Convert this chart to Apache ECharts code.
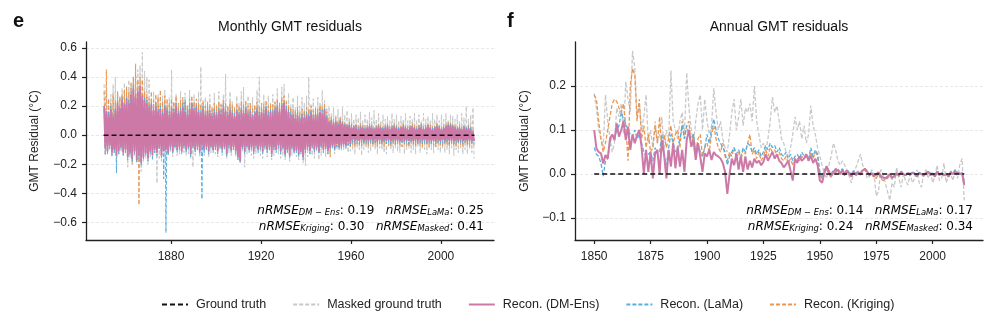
<!DOCTYPE html>
<html>
<head>
<meta charset="utf-8">
<script src="https://cdn.jsdelivr.net/npm/echarts@6/dist/echarts.min.js"></script>
<style>
html, body { margin: 0; background: #fff; }
#chart { width: 996px; height: 327px; }
</style>
</head>
<body>
<div id="chart"></div>
<script>
// tick labels
var monthlyXTicks = [1880, 1920, 1960, 2000];
var monthlyYTicks = [-0.6, -0.4, -0.2, 0, 0.2, 0.4, 0.6];
var annualXTicks = [1850, 1875, 1900, 1925, 1950, 1975, 2000];
var annualYTicks = [-0.1, 0, 0.1, 0.2];

var seriesNames = ['Ground truth', 'Masked ground truth', 'Recon. (DM-Ens)', 'Recon. (LaMa)', 'Recon. (Kriging)'];

// ground truth residual is zero over the record
var truthYears = [1850, 2014.9];
var truthResidual = [0, 0];

// monthly residuals, read every half year (1850.25, 1850.75, ...)
var monthlyStart = 1850.25;
var monthlyStep = 0.5;

var monthlyDmEns = [
  .20,-.08, .16,-.11, .14,-.07, .18,-.12, .13,-.10, .17,-.14, .22,-.11, .19,-.08, .24,-.12, .21,-.10,
  .25,-.15, .22,-.12, .28,-.16, .32,-.11, .26,-.17, .30,-.14, .34,-.19, .27,-.15, .24,-.12, .22,-.16,
  .19,-.11, .21,-.14, .17,-.10, .20,-.12, .16,-.08, .18,-.14, .15,-.11, .19,-.10, .17,-.12, .14,-.08,
  .18,-.11, .16,-.07, .20,-.10, .15,-.08, .17,-.11, .19,-.07, .16,-.10, .14,-.08, .18,-.13, .21,-.07,
  .17,-.10, .19,-.08, .16,-.11, .15,-.07, .18,-.10, .14,-.08, .17,-.11, .15,-.07, .13,-.10, .16,-.08,
  .14,-.11, .17,-.07, .15,-.10, .19,-.08, .16,-.13, .14,-.07, .17,-.10, .15,-.08, .13,-.11, .16,-.15,
  .14,-.18, .17,-.08, .15,-.11, .18,-.07, .14,-.10, .16,-.08, .13,-.11, .15,-.07, .17,-.10, .14,-.08,
  .16,-.11, .15,-.07, .18,-.10, .14,-.08, .16,-.13, .15,-.08, .17,-.10, .19,-.07, .16,-.11, .20,-.08,
  .22,-.13, .18,-.10, .16,-.14, .14,-.08, .13,-.11, .12,-.10, .14,-.13, .11,-.11, .13,-.15, .12,-.10,
  .14,-.08, .13,-.11, .15,-.07, .12,-.10, .14,-.08, .13,-.11, .16,-.07, .15,-.10, .18,-.08, .12,-.11,
  .09,-.08, .10,-.07, .08,-.09, .09,-.06, .07,-.08, .10,-.07, .08,-.06, .07,-.07, .06,-.05, .07,-.06,
  .05,-.03, .06,-.04, .05,-.03, .04,-.04, .06,-.03, .05,-.04, .04,-.03, .05,-.04, .06,-.03, .05,-.04,
  .04,-.03, .05,-.04, .06,-.03, .05,-.04, .04,-.03, .05,-.04, .06,-.03, .04,-.04, .05,-.03, .06,-.04,
  .05,-.03, .04,-.04, .05,-.03, .06,-.04, .05,-.03, .04,-.04, .05,-.03, .06,-.04, .05,-.03, .04,-.04,
  .05,-.03, .06,-.04, .04,-.03, .05,-.04, .06,-.03, .05,-.04, .04,-.03, .05,-.04, .06,-.03, .05,-.04,
  .04,-.03, .05,-.04, .06,-.03, .07,-.04, .07,-.03, .06,-.04, .05,-.03, .04,-.04, .05,-.03, .04,-.04,
  .05,-.03, .04,-.04, .05,-.03, .04,-.04, .02,-.04
];

var monthlyLama = [
  .18,-.13, .17,-.13, .16,-.09, .20,-.14, .15,-.12, .19,-.26, .23,-.13, .19,-.10, .26,-.14, .22,-.12,
  .27,-.17, .24,-.14, .30,-.18, .35,-.13, .28,-.19, .31,-.16, .30,-.21, .28,-.17, .26,-.14, .24,-.18,
  .21,-.13, .23,-.16, .19,-.12, .22,-.14, .18,-.10, .20,-.16, .17,-.30, .21,-.67, .19,-.14, .16,-.10,
  .20,-.13, .18,-.09, .22,-.12, .17,-.10, .19,-.13, .22,-.09, .24,-.12, .18,-.10, .22,-.15, .23,-.09,
  .19,-.12, .21,-.10, .18,-.13, .17,-.44, .20,-.12, .16,-.10, .19,-.13, .17,-.09, .15,-.12, .18,-.10,
  .16,-.13, .19,-.09, .17,-.12, .21,-.10, .18,-.15, .16,-.09, .19,-.12, .17,-.10, .15,-.13, .18,-.17,
  .16,-.19, .19,-.10, .17,-.13, .20,-.09, .16,-.12, .18,-.10, .15,-.13, .17,-.09, .19,-.12, .16,-.10,
  .18,-.13, .17,-.09, .20,-.12, .16,-.10, .18,-.15, .17,-.10, .19,-.12, .21,-.09, .18,-.13, .22,-.10,
  .23,-.15, .20,-.12, .18,-.16, .16,-.10, .15,-.13, .14,-.12, .16,-.15, .13,-.13, .15,-.17, .14,-.12,
  .16,-.10, .15,-.13, .17,-.09, .14,-.12, .16,-.10, .15,-.13, .18,-.09, .17,-.12, .19,-.10, .14,-.13,
  .10,-.10, .11,-.09, .09,-.11, .10,-.08, .08,-.10, .11,-.09, .09,-.08, .08,-.09, .07,-.07, .08,-.08,
  .07,-.05, .06,-.06, .07,-.05, .05,-.06, .07,-.05, .06,-.06, .05,-.05, .06,-.06, .07,-.05, .06,-.06,
  .05,-.05, .06,-.06, .07,-.05, .06,-.06, .05,-.05, .06,-.06, .07,-.05, .05,-.06, .06,-.05, .07,-.06,
  .06,-.05, .05,-.06, .06,-.05, .07,-.06, .06,-.05, .05,-.06, .06,-.05, .07,-.06, .06,-.05, .05,-.06,
  .06,-.05, .07,-.06, .05,-.05, .06,-.06, .07,-.05, .06,-.06, .05,-.05, .06,-.06, .07,-.05, .06,-.06,
  .05,-.05, .06,-.06, .07,-.05, .08,-.06, .08,-.05, .07,-.06, .06,-.05, .05,-.06, .06,-.05, .05,-.06,
  .06,-.05, .05,-.06, .06,-.05, .05,-.06, .03,-.06
];

var monthlyKriging = [
  .30,-.10, .45,-.12, .25,-.08, .22,-.11, .28,-.09, .24,-.12, .30,-.10, .26,-.08, .28,-.11, .31,-.09,
  .33,-.13, .30,-.11, .36,-.20, .40,-.12, .49,-.16, .38,-.48, .40,-.18, .38,-.14, .30,-.12, .28,-.15,
  .25,-.11, .30,-.13, .24,-.10, .28,-.12, .26,-.09, .31,-.14, .23,-.11, .27,-.10, .25,-.12, .22,-.09,
  .25,-.11, .23,-.08, .27,-.10, .22,-.09, .24,-.11, .26,-.08, .23,-.10, .21,-.09, .25,-.12, .27,-.08,
  .23,-.10, .25,-.09, .22,-.11, .21,-.08, .24,-.10, .20,-.09, .23,-.11, .21,-.08, .19,-.10, .22,-.09,
  .20,-.11, .23,-.08, .21,-.10, .24,-.09, .22,-.12, .20,-.08, .23,-.10, .21,-.09, .19,-.11, .22,-.14,
  .20,-.17, .23,-.09, .21,-.11, .24,-.08, .20,-.10, .22,-.09, .19,-.11, .21,-.08, .23,-.10, .20,-.09,
  .22,-.11, .21,-.08, .24,-.10, .20,-.09, .22,-.12, .21,-.09, .23,-.10, .25,-.08, .22,-.11, .26,-.09,
  .27,-.12, .23,-.10, .21,-.13, .19,-.09, .18,-.11, .17,-.10, .19,-.12, .16,-.11, .18,-.14, .17,-.10,
  .19,-.09, .18,-.11, .20,-.08, .17,-.10, .19,-.09, .18,-.11, .21,-.08, .20,-.10, .22,-.09, .16,-.11,
  .12,-.15, .13,-.08, .11,-.10, .12,-.07, .10,-.09, .12,-.08, .10,-.07, .09,-.08, .08,-.07, .09,-.08,
  .08,-.07, .07,-.08, .08,-.06, .06,-.07, .08,-.08, .07,-.06, .06,-.07, .07,-.08, .08,-.06, .07,-.07,
  .06,-.07, .07,-.08, .08,-.06, .07,-.07, .06,-.08, .07,-.06, .08,-.07, .06,-.08, .07,-.06, .08,-.07,
  .07,-.06, .06,-.07, .07,-.08, .08,-.06, .07,-.07, .06,-.08, .07,-.06, .08,-.07, .07,-.08, .06,-.06,
  .07,-.07, .08,-.08, .06,-.06, .07,-.07, .08,-.08, .07,-.06, .06,-.07, .07,-.08, .08,-.06, .07,-.07,
  .06,-.08, .07,-.06, .08,-.07, .09,-.08, .09,-.06, .08,-.07, .07,-.08, .06,-.06, .07,-.07, .06,-.08,
  .07,-.06, .06,-.07, .07,-.08, .06,-.06, .04,-.07
];

var monthlyMasked = [
  .35,-.14, .30,-.12, .25,-.10, .28,-.15, .35,-.12, .40,-.16, .30,-.13, .27,-.11, .32,-.14, .36,-.12,
  .34,-.22, .38,-.16, .35,-.18, .40,-.14, .42,-.19, .45,-.16, .48,-.25, .57,-.18, .44,-.16, .40,-.20,
  .38,-.15, .24,-.17, .30,-.12, .22,-.33, .28,-.16, .20,-.18, .27,-.11, .31,-.17, .21,-.14, .26,-.12,
  .45,-.15, .22,-.10, .28,-.14, .20,-.13, .30,-.09, .24,-.12, .29,-.14, .19,-.13, .31,-.16, .23,-.22,
  .28,-.14, .21,-.10, .30,-.15, .47,-.12, .22,-.14, .26,-.09, .20,-.15, .28,-.12, .19,-.10, .29,-.13,
  .21,-.15, .30,-.10, .22,-.14, .28,-.09, .42,-.16, .20,-.12, .30,-.14, .23,-.10, .19,-.15, .27,-.16,
  .22,-.17, .30,-.11, .33,-.22, .21,-.13, .27,-.10, .22,-.14, .26,-.16, .20,-.13, .31,-.11, .40,-.14,
  .22,-.16, .28,-.10, .21,-.15, .27,-.11, .20,-.17, .28,-.14, .22,-.10, .32,-.13, .23,-.16, .33,-.14,
  .35,-.17, .24,-.12, .29,-.18, .21,-.14, .26,-.11, .19,-.15, .27,-.17, .20,-.12, .26,-.19, .22,-.21,
  .27,-.15, .40,-.12, .21,-.14, .25,-.16, .20,-.11, .26,-.17, .22,-.14, .31,-.12, .24,-.15, .19,-.13,
  .20,-.12, .15,-.09, .19,-.13, .14,-.10, .18,-.08, .13,-.11, .19,-.10, .14,-.09, .17,-.12, .12,-.11,
  .15,-.10, .11,-.13, .14,-.09, .12,-.10, .16,-.14, .10,-.10, .14,-.09, .11,-.12, .16,-.11, .12,-.08,
  .17,-.10, .11,-.13, .15,-.09, .10,-.10, .14,-.12, .11,-.13, .13,-.08, .10,-.10, .15,-.12, .11,-.09,
  .14,-.11, .10,-.12, .13,-.08, .11,-.13, .15,-.10, .10,-.09, .13,-.12, .11,-.10, .15,-.13, .10,-.08,
  .14,-.12, .10,-.09, .15,-.10, .11,-.13, .13,-.09, .10,-.10, .15,-.12, .11,-.08, .14,-.10, .10,-.12,
  .14,-.09, .11,-.12, .15,-.10, .10,-.13, .14,-.09, .13,-.14, .11,-.10, .14,-.12, .10,-.09, .15,-.13,
  .12,-.10, .20,-.13, .11,-.09, .14,-.12, .19,-.16
];

// annual residuals, 1850 .. 2014
var annualStart = 1850;

var annualDmEns = [
  0.100, 0.058, 0.050, 0.047, 0.024, 0.043, 0.035, 0.080, 0.090, 0.077,
  0.115, 0.085, 0.100, 0.120, 0.077, 0.107, 0.055, 0.090, 0.070, 0.088,
  0.100, 0.062, 0.000, 0.055, 0.005, 0.050, -0.010, 0.047, 0.055, 0.000,
  0.077, 0.043, -0.010, 0.055, 0.017, 0.070, 0.013, 0.062, 0.017, 0.055,
  0.005, 0.077, 0.100, 0.062, 0.077, 0.032, 0.070, 0.040, 0.005, 0.047,
  0.040, 0.055, 0.032, 0.050, 0.043, 0.040, 0.035, 0.025, 0.005, -0.045,
  0.000, 0.035, 0.020, 0.045, 0.010, 0.040, 0.005, 0.040, 0.010, 0.030,
  0.015, 0.035, 0.025, 0.030, 0.020, 0.028, 0.045, 0.030, 0.040, 0.050,
  0.035, 0.045, 0.030, 0.025, 0.015, 0.022, 0.030, 0.008, -0.015, 0.035,
  0.025, 0.040, 0.030, 0.035, 0.045, 0.030, 0.042, 0.025, 0.035, 0.020,
  -0.015, -0.020, 0.002, 0.018, 0.005, -0.005, 0.003, 0.012, 0.008, 0.000,
  0.010, -0.002, 0.008, 0.000, -0.005, 0.005, -0.002, 0.004, 0.000, 0.008,
  0.012, 0.005, -0.003, 0.002, -0.006, 0.000, 0.004, -0.004, -0.008, -0.010,
  -0.006, 0.000, -0.008, -0.004, 0.002, -0.002, 0.004, 0.000, -0.003, 0.002,
  -0.002, 0.003, 0.000, -0.005, 0.002, 0.000, -0.004, 0.002, 0.005, -0.002,
  0.000, -0.006, 0.004, -0.002, 0.002, -0.003, 0.000, -0.006, 0.003, 0.000,
  0.004, 0.002, 0.000, 0.002, -0.025
];

var annualLama = [
  0.060, 0.045, 0.040, 0.025, -0.005, 0.030, 0.035, 0.070, 0.090, 0.080,
  0.100, 0.110, 0.140, 0.125, 0.115, 0.100, 0.090, 0.085, 0.100, 0.080,
  0.090, 0.070, 0.050, 0.040, 0.045, 0.050, 0.030, 0.060, 0.045, 0.050,
  0.090, 0.040, 0.020, 0.060, 0.090, 0.070, 0.050, 0.060, 0.080, 0.110,
  0.080, 0.110, 0.090, 0.080, 0.090, 0.050, 0.070, 0.050, 0.040, 0.060,
  0.090, 0.070, 0.100, 0.125, 0.100, 0.080, 0.070, 0.060, 0.050, 0.020,
  0.040, 0.050, 0.060, 0.045, 0.055, 0.040, 0.060, 0.050, 0.070, 0.065,
  0.050, 0.060, 0.045, 0.055, 0.040, 0.050, 0.065, 0.055, 0.070, 0.060,
  0.065, 0.050, 0.060, 0.045, 0.040, 0.050, 0.035, 0.045, 0.030, 0.040,
  0.045, 0.035, 0.050, 0.040, 0.045, 0.035, 0.060, 0.040, 0.055, 0.045,
  0.005, -0.010, 0.010, 0.015, 0.008, 0.000, 0.010, 0.006, 0.012, 0.004,
  0.012, 0.002, 0.010, 0.004, 0.000, 0.008, 0.002, 0.006, 0.003, 0.010,
  0.012, 0.006, 0.000, 0.004, -0.004, -0.006, 0.002, -0.008, -0.012, -0.010,
  -0.008, -0.002, -0.010, -0.006, 0.000, -0.004, 0.006, 0.002, -0.002, 0.004,
  0.000, 0.005, 0.002, -0.003, 0.004, 0.002, -0.002, 0.004, 0.006, 0.000,
  0.002, -0.004, 0.008, 0.000, 0.004, -0.002, 0.002, -0.004, 0.006, 0.002,
  0.010, 0.004, 0.002, 0.004, -0.015
];

var annualKriging = [
  0.180, 0.170, 0.120, 0.080, 0.050, 0.070, 0.100, 0.130, 0.160, 0.170,
  0.165, 0.150, 0.140, 0.160, 0.110, 0.030, 0.200, 0.240, 0.225, 0.120,
  0.170, 0.080, 0.110, 0.060, 0.090, 0.050, 0.060, 0.110, 0.070, 0.130,
  0.050, 0.090, 0.060, 0.080, 0.110, 0.070, 0.090, 0.100, 0.060, 0.120,
  0.080, 0.110, 0.120, 0.060, 0.090, 0.050, 0.080, 0.090, 0.040, 0.060,
  0.070, 0.050, 0.090, 0.110, 0.080, 0.060, 0.050, 0.070, 0.040, 0.030,
  0.050, 0.040, 0.060, 0.035, 0.050, 0.030, 0.055, 0.045, 0.070, 0.090,
  0.045, 0.055, 0.035, 0.050, 0.030, 0.040, 0.055, 0.040, 0.060, 0.050,
  0.055, 0.040, 0.050, 0.035, 0.030, 0.040, 0.025, 0.035, 0.020, 0.030,
  0.035, 0.030, 0.040, 0.035, 0.040, 0.030, 0.050, 0.035, 0.050, 0.040,
  0.000, -0.015, 0.005, 0.010, 0.000, -0.008, 0.006, 0.002, 0.010, -0.002,
  0.008, -0.004, 0.006, 0.000, -0.006, 0.004, -0.004, 0.002, -0.002, 0.006,
  0.010, 0.004, -0.004, 0.000, -0.008, -0.010, 0.000, -0.010, -0.015, -0.012,
  -0.010, -0.004, -0.012, -0.008, -0.002, -0.006, 0.004, 0.000, -0.004, 0.002,
  -0.002, 0.003, 0.000, -0.006, 0.002, 0.000, -0.004, 0.002, 0.004, -0.003,
  0.000, -0.006, 0.006, -0.002, 0.002, -0.004, 0.000, -0.006, 0.004, 0.000,
  0.008, 0.002, 0.000, 0.002, -0.020
];

var annualMasked = [
  0.183, 0.150, 0.100, 0.080, 0.060, 0.180, 0.120, 0.080, 0.050, 0.070,
  0.150, 0.130, 0.160, 0.090, 0.210, 0.170, 0.140, 0.280, 0.240, 0.130,
  0.160, 0.100, 0.130, 0.180, 0.070, 0.100, 0.060, 0.120, 0.070, 0.090,
  0.130, 0.050, 0.100, 0.080, 0.235, 0.120, 0.100, 0.080, 0.120, 0.140,
  0.090, 0.230, 0.150, 0.100, 0.070, 0.120, 0.160, 0.180, 0.100, 0.170,
  0.120, 0.090, 0.110, 0.195, 0.140, 0.100, 0.120, 0.080, 0.060, 0.050,
  0.090, 0.140, 0.170, 0.100, 0.130, 0.170, 0.110, 0.150, 0.140, 0.160,
  0.120, 0.200, 0.120, 0.090, 0.060, 0.070, 0.050, 0.080, 0.120, 0.175,
  0.140, 0.155, 0.120, 0.080, 0.070, 0.050, 0.040, 0.060, 0.090, 0.130,
  0.100, 0.120, 0.080, 0.110, 0.070, 0.090, 0.155, 0.110, 0.090, 0.060,
  0.040, 0.020, 0.000, -0.010, 0.020, 0.040, 0.070, 0.055, 0.030, 0.020,
  0.030, 0.020, 0.010, -0.005, -0.020, 0.005, 0.015, 0.030, 0.045, 0.020,
  0.010, -0.010, -0.005, 0.010, 0.000, -0.050, -0.040, 0.010, 0.000, -0.020,
  -0.040, -0.060, -0.020, -0.030, 0.015, -0.010, -0.030, 0.000, -0.015, -0.025,
  0.000, -0.020, -0.010, 0.010, -0.020, -0.030, 0.000, 0.010, -0.010, 0.005,
  -0.020, -0.005, 0.020, -0.015, -0.010, 0.025, -0.020, -0.005, 0.000, -0.015,
  0.010, -0.010, 0.020, 0.035, -0.060
];

var colors = {
  truth: '#111111',
  masked: '#c8c8c8',
  dmEns: '#cc79a7',
  lama: '#5aaee0',
  kriging: '#ec9650'
};

function toPairs(start, step, values) {
  return values.map(function (v, i) { return [start + i * step, v]; });
}
function truthPairs() {
  return truthYears.map(function (y, i) { return [y, truthResidual[i]]; });
}
function fmt(v) {
  return (Math.abs(v) < 1e-9 ? '0.0' : v.toFixed(1)).replace('-', '\u2212');
}
function yearFmt(v) {
  return String(Math.round(v));
}

function line(name, panel, data, color, width, dash, z) {
  return {
    name: name,
    type: 'line',
    xAxisIndex: panel,
    yAxisIndex: panel,
    data: data,
    symbol: 'none',
    showSymbol: false,
    animation: false,
    silent: true,
    z: z,
    itemStyle: { color: color },
    lineStyle: { color: color, width: width, type: dash }
  };
}

var baseFont = 'Liberation Sans, Arial, sans-serif';
var axisColor = '#222';

function xAxis(idx, min, max, ticks) {
  return {
    type: 'value', gridIndex: idx, min: min, max: max,
    axisLine: { show: true, onZero: false, lineStyle: { color: axisColor, width: 1.3 } },
    axisTick: { show: true, customValues: ticks, length: 4, lineStyle: { color: axisColor, width: 1.2 } },
    axisLabel: { customValues: ticks, margin: 11, fontSize: 12, color: axisColor, fontFamily: baseFont, formatter: yearFmt },
    splitLine: { show: false }
  };
}
function yAxis(idx, min, max, ticks, gap) {
  return {
    type: 'value', gridIndex: idx, min: min, max: max,
    name: 'GMT Residual (\u00b0C)', nameLocation: 'middle', nameGap: gap,
    nameTextStyle: { fontSize: 12, color: axisColor, fontFamily: baseFont },
    axisLine: { show: true, onZero: false, lineStyle: { color: axisColor, width: 1.3 } },
    axisTick: { show: true, customValues: ticks, length: 4, lineStyle: { color: axisColor, width: 1.2 } },
    axisLabel: { customValues: ticks, margin: 9, fontSize: 12, color: axisColor, fontFamily: baseFont, formatter: fmt },
    splitLine: { show: true, lineStyle: { color: '#e2e2e2', width: 0.8, type: [3, 2] } }
  };
}

var mathRich = {
  i: { fontFamily: 'DejaVu Sans', fontStyle: 'italic', fontSize: 12, color: '#111', verticalAlign: 'bottom', lineHeight: 16 },
  s: { fontFamily: 'DejaVu Sans', fontStyle: 'italic', fontSize: 8.4, color: '#111', verticalAlign: 'bottom', lineHeight: 7 },
  r: { fontFamily: 'DejaVu Sans', fontSize: 12, color: '#111', verticalAlign: 'bottom', lineHeight: 16 }
};
function score(x, y, text) {
  return { type: 'text', x: x, y: y, z: 100, silent: true,
    style: { text: text, rich: mathRich, align: 'right', verticalAlign: 'middle' } };
}
function label(x, y, text, size, bold, align) {
  return { type: 'text', x: x, y: y, z: 100, silent: true,
    style: { text: text, fontSize: size, fontWeight: bold ? 'bold' : 'normal', fontFamily: baseFont,
      fill: '#111', align: align, verticalAlign: 'middle' } };
}

var chart = echarts.init(document.getElementById('chart'));
chart.setOption({
  backgroundColor: '#fff',
  animation: false,
  grid: [
    { left: 86, top: 42, width: 408, height: 198 },
    { left: 575, top: 42, width: 408, height: 198 }
  ],
  xAxis: [
    xAxis(0, 1842.2, 2023.6, monthlyXTicks),
    xAxis(1, 1841.5, 2022.3, annualXTicks)
  ],
  yAxis: [
    yAxis(0, -0.72, 0.64, monthlyYTicks, 45),
    yAxis(1, -0.15, 0.30, annualYTicks, 44)
  ],
  legend: {
    data: seriesNames,
    left: 156, top: 293,
    itemWidth: 26, itemHeight: 14, itemGap: 26,
    itemStyle: { opacity: 0 },
    textStyle: { fontSize: 12.5, color: axisColor, fontFamily: baseFont, padding: [0, 0, 0, 3] }
  },
  graphic: [
    label(13, 21, 'e', 20, true, 'left'),
    label(507, 21, 'f', 20, true, 'left'),
    label(290, 27, 'Monthly GMT residuals', 14, false, 'center'),
    label(779, 27, 'Annual GMT residuals', 14, false, 'center'),
    score(484, 209, '{i|nRMSE}{s|DM \u2212 Ens}{r|: 0.19   }{i|nRMSE}{s|LaMa}{r|: 0.25}'),
    score(484, 225, '{i|nRMSE}{s|Kriging}{r|: 0.30   }{i|nRMSE}{s|Masked}{r|: 0.41}'),
    score(973, 209, '{i|nRMSE}{s|DM \u2212 Ens}{r|: 0.14   }{i|nRMSE}{s|LaMa}{r|: 0.17}'),
    score(973, 225, '{i|nRMSE}{s|Kriging}{r|: 0.24   }{i|nRMSE}{s|Masked}{r|: 0.34}')
  ],
  series: [
    line('Masked ground truth', 0, toPairs(monthlyStart, monthlyStep, monthlyMasked), colors.masked, 1, [4, 2], 2),
    line('Recon. (Kriging)', 0, toPairs(monthlyStart, monthlyStep, monthlyKriging), colors.kriging, 1, [4, 2], 3),
    line('Recon. (LaMa)', 0, toPairs(monthlyStart, monthlyStep, monthlyLama), colors.lama, 1, [4, 2], 4),
    line('Recon. (DM-Ens)', 0, toPairs(monthlyStart, monthlyStep, monthlyDmEns), colors.dmEns, 1.8, 'solid', 5),
    line('Ground truth', 0, truthPairs(), colors.truth, 1.4, [5, 3], 6),

    line('Masked ground truth', 1, toPairs(annualStart, 1, annualMasked), colors.masked, 1.3, [4, 2], 2),
    line('Recon. (Kriging)', 1, toPairs(annualStart, 1, annualKriging), colors.kriging, 1.3, [4, 2], 3),
    line('Recon. (LaMa)', 1, toPairs(annualStart, 1, annualLama), colors.lama, 1.3, [4, 2], 4),
    line('Recon. (DM-Ens)', 1, toPairs(annualStart, 1, annualDmEns), colors.dmEns, 2, 'solid', 5),
    line('Ground truth', 1, [[1850, 0], [2014, 0]], colors.truth, 1.4, [5, 3], 6)
  ]
});
</script>
</body>
</html>
